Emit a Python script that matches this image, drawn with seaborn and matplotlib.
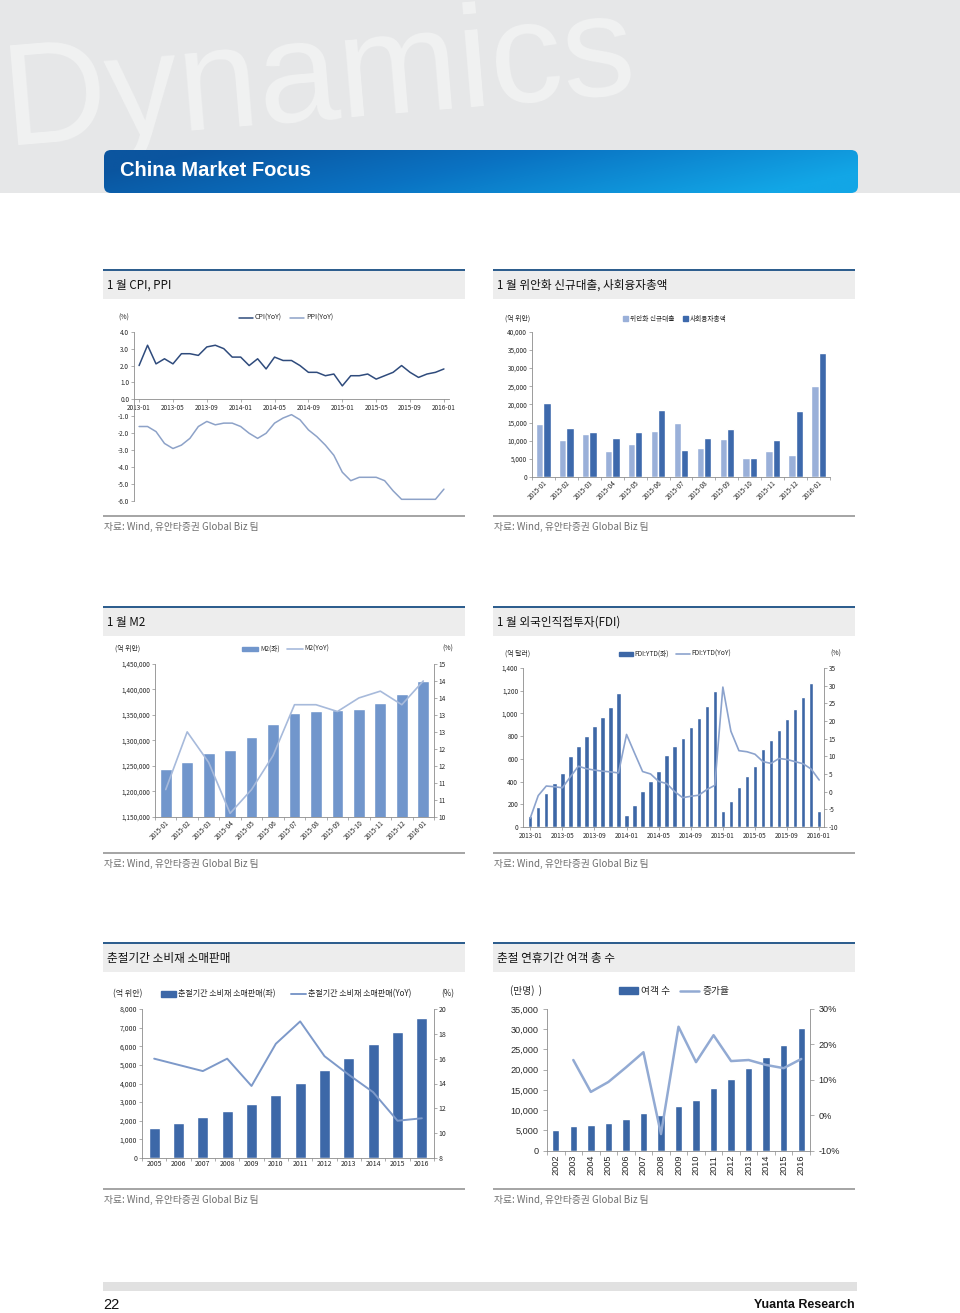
import numpy as np
import pandas as pd
import matplotlib
matplotlib.use("Agg")
import matplotlib.pyplot as plt
import seaborn as sns
from matplotlib.patches import Rectangle, FancyBboxPatch, Patch
from matplotlib.lines import Line2D

# ---------------- data ----------------
cpi_months = ["2013-01", "2013-02", "2013-03", "2013-04", "2013-05", "2013-06", "2013-07", "2013-08",
              "2013-09", "2013-10", "2013-11", "2013-12", "2014-01", "2014-02", "2014-03", "2014-04",
              "2014-05", "2014-06", "2014-07", "2014-08", "2014-09", "2014-10", "2014-11", "2014-12",
              "2015-01", "2015-02", "2015-03", "2015-04", "2015-05", "2015-06", "2015-07", "2015-08",
              "2015-09", "2015-10", "2015-11", "2015-12", "2016-01"]
cpi = [2.0, 3.2, 2.1, 2.4, 2.1, 2.7, 2.7, 2.6, 3.1, 3.2, 3.0, 2.5,
       2.5, 2.0, 2.4, 1.8, 2.5, 2.3, 2.3, 2.0, 1.6, 1.6, 1.4, 1.5,
       0.8, 1.4, 1.4, 1.5, 1.2, 1.4, 1.6, 2.0, 1.6, 1.3, 1.5, 1.6, 1.8]
ppi = [-1.6, -1.6, -1.9, -2.6, -2.9, -2.7, -2.3, -1.6, -1.3, -1.5, -1.4, -1.4,
       -1.6, -2.0, -2.3, -2.0, -1.4, -1.1, -0.9, -1.2, -1.8, -2.2, -2.7, -3.3,
       -4.3, -4.8, -4.6, -4.6, -4.6, -4.8, -5.4, -5.9, -5.9, -5.9, -5.9, -5.9, -5.3]

loan_months = ["2015-01", "2015-02", "2015-03", "2015-04", "2015-05", "2015-06", "2015-07",
               "2015-08", "2015-09", "2015-10", "2015-11", "2015-12", "2016-01"]
new_loans = [14700, 10200, 11800, 7100, 9000, 12800, 14800, 8100, 10500, 5100, 7100, 6000, 25100]
tsf = [20500, 13600, 12400, 10600, 12400, 18400, 7400, 10800, 13300, 5300, 10200, 18200, 34200]

m2_months = loan_months
m2 = [1243000, 1257000, 1275000, 1281000, 1307000, 1333000, 1353000,
      1357000, 1359000, 1361000, 1374000, 1392000, 1416000]
m2_yoy = [10.8, 12.5, 11.6, 10.1, 10.8, 11.8, 13.3, 13.3, 13.1, 13.5, 13.7, 13.3, 14.0]

fdi_months = cpi_months
fdi = [93, 179, 302, 385, 478, 622, 716, 801, 889, 971, 1057, 1176,
       109, 194, 317, 405, 490, 634, 713, 787, 878, 963, 1066, 1200,
       141, 226, 352, 446, 540, 687, 769, 857, 951, 1039, 1145, 1265, 141]
fdi_yoy = [-7.5, -1.1, 1.6, 1.4, 1.1, 4.2, 7.2, 6.5, 6.1, 5.8, 5.6, 5.3,
           16.2, 10.9, 5.7, 5.0, 2.9, 2.3, 0.0, -1.7, -1.3, -1.0, 0.6, 1.8,
           29.6, 17.1, 11.6, 11.3, 10.6, 8.5, 8.0, 9.4, 9.1, 8.5, 7.9, 6.4, 3.3]

ret_years = ["2005", "2006", "2007", "2008", "2009", "2010", "2011", "2012", "2013", "2014", "2015", "2016"]
ret_sales = [1600, 1900, 2190, 2550, 2890, 3400, 4040, 4700, 5380, 6100, 6780, 7540]
ret_yoy = [16.0, 15.5, 15.0, 16.0, 13.8, 17.2, 19.0, 16.2, 14.7, 13.3, 11.0, 11.2]

tour_years = ["2002", "2003", "2004", "2005", "2006", "2007", "2008", "2009", "2010",
              "2011", "2012", "2013", "2014", "2015", "2016"]
tourists = [5190, 6010, 6420, 6920, 7910, 9230, 8800, 10950, 12520, 15400, 17700, 20350, 23150, 26100, 30230]
tour_growth = [np.nan, 0.156, 0.066, 0.094, 0.135, 0.178, -0.053, 0.250, 0.150, 0.226,
               0.153, 0.156, 0.142, 0.133, 0.159]

# ---------------- style ----------------
sns.set_theme(style="white", rc={
    "axes.edgecolor": "#8C8C8C", "axes.linewidth": 0.6,
    "xtick.color": "#8C8C8C", "ytick.color": "#8C8C8C",
    "xtick.bottom": True, "ytick.left": True,
    "axes.facecolor": "none",
})
KR = ["Noto Sans CJK KR", "DejaVu Sans"]
NARROW = ["Liberation Sans Narrow", "Liberation Sans", "DejaVu Sans"]
ARIAL = ["Liberation Sans", "DejaVu Sans"]
plt.rcParams["font.family"] = KR
TXT = "#262626"

W, H = 960, 1313
fig = plt.figure(figsize=(W / 100, H / 100), dpi=100)
fig.patch.set_facecolor("white")

bg = fig.add_axes([0, 0, 1, 1], zorder=0)
bg.set_xlim(0, W)
bg.set_ylim(H, 0)
bg.axis("off")


def ax_px(x0, y0, x1, y1):
    return fig.add_axes([x0 / W, 1 - y1 / H, (x1 - x0) / W, (y1 - y0) / H], zorder=2)


def fpos(x, y):
    return (x / W, 1 - y / H)


# ---------------- header ----------------
hdr = Rectangle((0, 0), W, 193, facecolor="#E6E7E8", edgecolor="none", zorder=1)
bg.add_patch(hdr)
wm = bg.text(6, 145, "Dynamics", rotation=4.8, rotation_mode="anchor", ha="left", va="baseline",
             fontsize=104, color="#F1F2F2", family=ARIAL, zorder=1.5)
wm.set_clip_path(hdr)

# banner gradient
gx = np.linspace(0, 1, 400)
gy = np.linspace(0, 1, 40)
GX, GY = np.meshgrid(gx, gy)
c_left = np.array([0x0B, 0x55, 0x9F]) / 255
c_mid = np.array([0x0A, 0x72, 0xC2]) / 255
c_right = np.array([0x12, 0xA6, 0xE6]) / 255
t = np.clip(GX + 0.25 * (GY - 0.5), 0, 1)[..., None]
img = np.where(t < 0.45, c_left + (c_mid - c_left) * (t / 0.45),
               c_mid + (c_right - c_mid) * ((t - 0.45) / 0.55))
im = bg.imshow(img, extent=[104, 858, 193, 150], aspect="auto", zorder=2, interpolation="bilinear")
clip = FancyBboxPatch((104, 150), 754, 43, boxstyle="round,pad=0,rounding_size=7",
                      transform=bg.transData, facecolor="none", edgecolor="none")
bg.add_patch(clip)
im.set_clip_path(clip)
bg.set_xlim(0, W)
bg.set_ylim(H, 0)
bg.text(120, 171, "China Market Focus", color="white", fontsize=14.5, fontweight="bold",
        family=NARROW, ha="left", va="center", zorder=3)

# ---------------- section boxes ----------------
titles = [("1 월 CPI, PPI", "1 월 위안화 신규대출, 사회융자총액", 269),
          ("1 월 M2", "1 월 외국인직접투자(FDI)", 606),
          ("춘절기간 소비재 소매판매", "춘절 연휴기간 여객 총 수", 942)]
src = "자료: Wind, 유안타증권 Global Biz 팀"
for lt, rt, y in titles:
    for x0, x1, s in ((103, 465, lt), (493, 855, rt)):
        bg.add_patch(Rectangle((x0, y + 2), x1 - x0, 28, facecolor="#EDEDED", edgecolor="none"))
        bg.add_patch(Rectangle((x0, y), x1 - x0, 2.2, facecolor="#2E5E8E", edgecolor="none"))
        bg.text(x0 + 4, y + 16.5, s, fontsize=8.4, color="#111111", ha="left", va="center")
        bg.add_patch(Rectangle((x0, y + 246), x1 - x0, 1.6, facecolor="#A6A6A6", edgecolor="none"))
        bg.text(x0 + 1, y + 258, src, fontsize=7, color="#6E6E6E", ha="left", va="center")

# footer
bg.add_patch(Rectangle((103, 1282), 754, 9, facecolor="#E1E1E1", edgecolor="none"))
bg.text(103, 1305, "22", fontsize=10.5, family=NARROW, color="#111111", ha="left", va="center")
bg.text(855, 1305, "Yuanta Research", fontsize=9, family=NARROW, fontweight="bold",
        color="#111111", ha="right", va="center")


def base_style(ax, fs=4.6, right=False):
    ax.spines["top"].set_visible(False)
    ax.spines["right"].set_visible(right)
    ax.grid(False)
    ax.set_xlabel("")
    ax.set_ylabel("")
    ax.tick_params(axis="both", which="both", direction="out", width=0.5, length=2, pad=1.5,
                   labelsize=fs, labelcolor=TXT)


def twin_style(axt, fs=4.6):
    for s in ("top", "left", "bottom"):
        axt.spines[s].set_visible(False)
    axt.spines["right"].set_visible(True)
    axt.grid(False)
    axt.set_xlabel("")
    axt.set_ylabel("")
    axt.tick_params(axis="y", right=True, left=False, direction="out", width=0.5, length=2,
                    pad=1.5, labelsize=fs, labelcolor=TXT)


def cat_ticks(ax, labels, rot=45, fs=4.6, fam=KR, tick_len=2.5):
    n = len(labels)
    ax.set_xticks(range(n), labels=labels, rotation=rot, ha="right" if rot == 45 else "center",
                  va="top", rotation_mode="anchor", fontsize=fs, fontfamily=fam)
    ax.set_xticks(np.arange(-0.5, n, 1), minor=True)
    ax.tick_params(axis="x", which="major", length=0)
    ax.tick_params(axis="x", which="minor", length=tick_len, width=0.5)
    ax.set_xlim(-0.5, n - 0.5)


# ---------------- chart 1 : CPI / PPI ----------------
CPI_C, PPI_C = "#2F4B7C", "#8DA2C8"
ax1 = ax_px(134, 331.7, 449, 501)
xi = np.arange(len(cpi_months))
sns.lineplot(x=xi, y=ppi, ax=ax1, color=PPI_C, lw=1.1)
sns.lineplot(x=xi, y=cpi, ax=ax1, color=CPI_C, lw=1.1)
base_style(ax1)
ax1.set_xlim(-0.6, 36.6)
ax1.set_ylim(-6, 4)
ax1.set_yticks(range(-6, 5), labels=[f"{v:.1f}" for v in range(-6, 5)], fontsize=4.6)
ax1.set_xticks(range(0, 37, 4), labels=cpi_months[::4], fontsize=4.6)
ax1.spines["bottom"].set_position(("data", 0))
bg.text(118, 318, "(%)", fontsize=5, color=TXT, ha="left", va="center")
fig.legend(handles=[Line2D([], [], color=CPI_C, lw=1.1), Line2D([], [], color=PPI_C, lw=1.1)],
           labels=["CPI(YoY)", "PPI(YoY)"], loc="center", bbox_to_anchor=fpos(286, 318), ncol=2,
           frameon=False, fontsize=5, handlelength=2.0, handletextpad=0.3, columnspacing=1.2)

# ---------------- chart 2 : loans ----------------
L_LIGHT, L_DARK = "#9AB0D9", "#3D69AC"
ax2 = ax_px(532, 331.7, 830, 477)
df_loans = pd.DataFrame({
    "month": loan_months + loan_months,
    "value": new_loans + tsf,
    "series": ["위안화 신규대출"] * len(loan_months) + ["사회융자총액"] * len(loan_months),
})
sns.barplot(data=df_loans, x="month", y="value", hue="series", palette=[L_LIGHT, L_DARK],
            saturation=1, width=0.64, gap=0, ax=ax2, legend=False)
base_style(ax2)
ax2.set_ylim(0, 40000)
ax2.set_yticks(range(0, 40001, 5000), labels=[f"{v:,}" for v in range(0, 40001, 5000)], fontsize=4.6)
cat_ticks(ax2, loan_months)
bg.text(505, 319, "(억 위안)", fontsize=5, color=TXT, ha="left", va="center")
fig.legend(handles=[Patch(color=L_LIGHT), Patch(color=L_DARK)], labels=["위안화 신규대출", "사회융자총액"],
           loc="center", bbox_to_anchor=fpos(675, 319), ncol=2, frameon=False, fontsize=4.8,
           handlelength=0.8, handleheight=0.8, handletextpad=0.3, columnspacing=1.2)

# ---------------- chart 3 : M2 ----------------
M2_C, M2L_C = "#7196CC", "#A7BADB"
ax3 = ax_px(155, 664, 434, 816.7)
sns.barplot(x=m2_months, y=m2, color=M2_C, saturation=1, width=0.55, ax=ax3)
base_style(ax3, right=False)
ax3.set_ylim(1150000, 1450000)
ax3.set_yticks(range(1150000, 1450001, 50000),
               labels=[f"{v:,}" for v in range(1150000, 1450001, 50000)], fontsize=4.6)
cat_ticks(ax3, m2_months)
ax3t = ax3.twinx()
sns.lineplot(x=np.arange(len(m2_months)), y=m2_yoy, ax=ax3t, color=M2L_C, lw=1.2)
twin_style(ax3t)
ax3t.set_ylim(10, 14.5)
r_ticks = np.arange(10, 14.51, 0.5)
ax3t.set_yticks(r_ticks, labels=[str(int(np.floor(v + 0.5))) for v in r_ticks], fontsize=4.6)
ax3.set_xlim(-0.5, len(m2_months) - 0.5)
bg.text(115, 649, "(억 위안)", fontsize=5, color=TXT, ha="left", va="center")
bg.text(442, 649, "(%)", fontsize=5, color=TXT, ha="left", va="center")
fig.legend(handles=[Patch(color=M2_C), Line2D([], [], color=M2L_C, lw=1.2)], labels=["M2(좌)", "M2(YoY)"],
           loc="center", bbox_to_anchor=fpos(286, 649), ncol=2, frameon=False, fontsize=4.8,
           handlelength=2.4, handleheight=0.6, handletextpad=0.3, columnspacing=1.0)

# ---------------- chart 4 : FDI ----------------
F_C, FL_C = "#3D67A6", "#8CA3CD"
ax4 = ax_px(523, 668, 824, 827)
sns.barplot(x=fdi_months, y=fdi, color=F_C, saturation=1, width=0.55, ax=ax4)
base_style(ax4)
ax4.set_ylim(0, 1400)
ax4.set_yticks(range(0, 1401, 200), labels=[f"{v:,}" for v in range(0, 1401, 200)], fontsize=4.6)
ax4.set_xticks(range(0, 37, 4), labels=fdi_months[::4], fontsize=4.6)
ax4t = ax4.twinx()
sns.lineplot(x=np.arange(len(fdi_months)), y=fdi_yoy, ax=ax4t, color=FL_C, lw=1.2)
twin_style(ax4t)
ax4t.set_ylim(-10, 35)
ax4t.set_yticks(range(-10, 36, 5), labels=[str(v) for v in range(-10, 36, 5)], fontsize=4.6)
ax4.set_xlim(-0.9, 36.6)
bg.text(505, 654, "(억 달러)", fontsize=5, color=TXT, ha="left", va="center")
bg.text(830, 654, "(%)", fontsize=5, color=TXT, ha="left", va="center")
fig.legend(handles=[Patch(color=F_C), Line2D([], [], color=FL_C, lw=1.2)],
           labels=["FDI:YTD(좌)", "FDI:YTD(YoY)"], loc="center", bbox_to_anchor=fpos(675, 654), ncol=2,
           frameon=False, fontsize=4.8, handlelength=2.1, handleheight=0.6, handletextpad=0.3,
           columnspacing=1.0)

# ---------------- chart 5 : retail sales ----------------
R_C, RL_C = "#3D68A8", "#7D99C9"
ax5 = ax_px(142, 1009, 434, 1158)
sns.barplot(x=ret_years, y=ret_sales, color=R_C, saturation=1, width=0.44, ax=ax5)
base_style(ax5, fs=5)
ax5.set_ylim(0, 8000)
ax5.set_yticks(range(0, 8001, 1000), labels=[f"{v:,}" for v in range(0, 8001, 1000)], fontsize=5)
cat_ticks(ax5, ret_years, rot=0, fs=5)
ax5t = ax5.twinx()
sns.lineplot(x=np.arange(len(ret_years)), y=ret_yoy, ax=ax5t, color=RL_C, lw=1.4)
twin_style(ax5t, fs=5)
ax5t.set_ylim(8, 20)
ax5t.set_yticks(range(8, 21, 2), labels=[str(v) for v in range(8, 21, 2)], fontsize=5)
ax5.set_xlim(-0.5, len(ret_years) - 0.5)
bg.text(113, 994, "(억 위안)", fontsize=5.8, color=TXT, ha="left", va="center")
bg.text(441, 994, "(%)", fontsize=5.8, color=TXT, ha="left", va="center")
fig.legend(handles=[Patch(color=R_C), Line2D([], [], color=RL_C, lw=1.4)],
           labels=["춘절기간 소비재 소매판매(좌)", "춘절기간 소비재 소매판매(YoY)"], loc="center",
           bbox_to_anchor=fpos(286, 994), ncol=2, frameon=False, fontsize=5.8, handlelength=1.9,
           handleheight=0.8, handletextpad=0.2, columnspacing=2.0)

# ---------------- chart 6 : tourists ----------------
T_C, TL_C = "#3A66A5", "#92AAD3"
ax6 = ax_px(547, 1009, 810, 1150.7)
sns.barplot(x=tour_years, y=tourists, color=T_C, saturation=1, width=0.42, ax=ax6)
base_style(ax6, fs=6.5)
ax6.tick_params(axis="y", length=3, pad=3)
ax6.set_ylim(0, 35000)
ax6.set_yticks(range(0, 35001, 5000), labels=[f"{v:,}" for v in range(0, 35001, 5000)],
               fontsize=6.6, fontfamily=ARIAL)
n6 = len(tour_years)
ax6.set_xticks(range(n6), labels=tour_years, rotation=90, ha="center", va="top", fontsize=6.6,
               fontfamily=ARIAL)
ax6.set_xticks(np.arange(-0.5, n6, 1), minor=True)
ax6.tick_params(axis="x", which="major", length=0, pad=3)
ax6.tick_params(axis="x", which="minor", length=3, width=0.5)
ax6t = ax6.twinx()
sns.lineplot(x=np.arange(n6), y=tour_growth, ax=ax6t, color=TL_C, lw=1.8)
twin_style(ax6t, fs=6.6)
ax6t.tick_params(axis="y", length=3, pad=3)
ax6t.set_ylim(-0.10, 0.30)
g_ticks = [-0.10, 0.0, 0.10, 0.20, 0.30]
ax6t.set_yticks(g_ticks, labels=[f"{v:.0%}" for v in g_ticks], fontsize=6.6, fontfamily=ARIAL)
ax6.set_xlim(-0.5, n6 - 0.5)
bg.text(510, 991, "(만명)  )", fontsize=7, color=TXT, ha="left", va="center")
fig.legend(handles=[Patch(color=T_C), Line2D([], [], color=TL_C, lw=1.8)], labels=["여객 수", "증가율"],
           loc="center", bbox_to_anchor=fpos(674, 991), ncol=2, frameon=False, fontsize=7,
           handlelength=2.0, handleheight=0.6, handletextpad=0.3, columnspacing=1.0)

fig.savefig("out.png", dpi=100, facecolor="white")
